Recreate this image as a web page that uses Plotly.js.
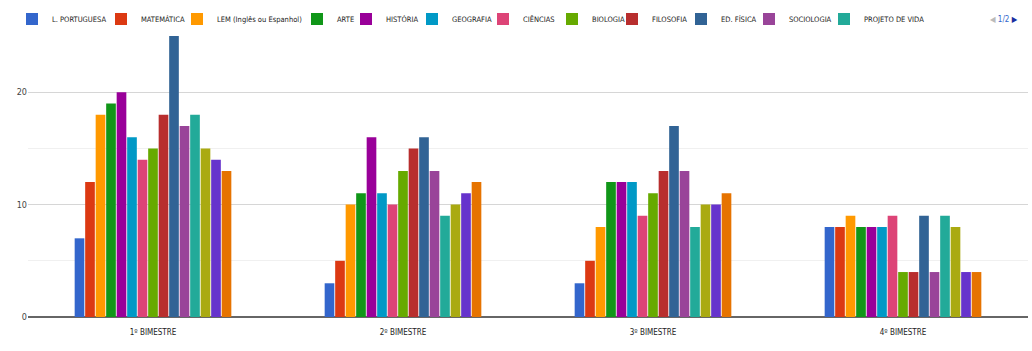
<!DOCTYPE html>
<html><head><meta charset="utf-8">
<script src="https://cdn.plot.ly/plotly-3.0.1.min.js"></script>
<style>html,body{margin:0;padding:0;background:#fff}#c{width:1032px;height:351px}</style>
</head><body><div id="c"></div>
<script>
const categories = ["1º BIMESTRE", "2º BIMESTRE", "3º BIMESTRE", "4º BIMESTRE"];
const seriesNames = ["L. PORTUGUESA", "MATEMÁTICA", "LEM (Inglês ou Espanhol)", "ARTE", "HISTÓRIA", "GEOGRAFIA", "CIÊNCIAS", "BIOLOGIA", "FILOSOFIA", "ED. FÍSICA", "SOCIOLOGIA", "PROJETO DE VIDA", "QUÍMICA", "FÍSICA", "ELETIVA"];
const lPortuguesa = [7, 3, 3, 8];
const matematica = [12, 5, 5, 8];
const lem = [18, 10, 8, 9];
const arte = [19, 11, 12, 8];
const historia = [20, 16, 12, 8];
const geografia = [16, 11, 12, 8];
const ciencias = [14, 10, 9, 9];
const biologia = [15, 13, 11, 4];
const filosofia = [18, 15, 13, 4];
const edFisica = [25, 16, 17, 9];
const sociologia = [17, 13, 13, 4];
const projetoDeVida = [18, 9, 8, 9];
const quimica = [15, 10, 10, 8];
const fisica = [14, 11, 10, 4];
const eletiva = [13, 12, 11, 4];
const seriesValues = [lPortuguesa, matematica, lem, arte, historia, geografia, ciencias, biologia, filosofia, edFisica, sociologia, projetoDeVida, quimica, fisica, eletiva];
const colors = ["#3366cc", "#dc3912", "#ff9900", "#109618", "#990099", "#0099c6", "#dd4477", "#66aa00", "#b82e2e", "#316395", "#994499", "#22aa99", "#aaaa11", "#6633cc", "#e67300"];
const legendCount = 12;
// left edge (px) of each legend swatch on page 1 of the legend
const legendSwatchX = [27, 116, 192, 312, 361, 427, 498, 567, 627, 696, 764, 839];

const font = "'DejaVu Sans Condensed', 'Liberation Sans Narrow', 'Arial Narrow', sans-serif";

const traces = seriesValues.map((v, i) => ({
  type: "bar", name: seriesNames[i], x: categories, y: v,
  marker: {color: colors[i]}, showlegend: i < legendCount,
  legend: i === 0 ? "legend" : (i < legendCount ? "legend" + (i + 1) : "legend")
}));

const plotTop = 36, plotBottom = 317;
const legendY = 19;
const layout = {
  width: 1032, height: 351,
  margin: {l: 28, r: 4, t: plotTop, b: 351 - plotBottom},
  paper_bgcolor: "#fff", plot_bgcolor: "#fff",
  font: {family: font, size: 8, color: "#222"},
  barmode: "group", bargap: 0.37, bargroupgap: 0.08,
  xaxis: {type: "category", showgrid: false, showline: false, ticks: "", ticklabelstandoff: 9,
          tickfont: {size: 8, color: "#222"}},
  yaxis: {range: [0, 25], dtick: 10, tick0: 0, showgrid: true, gridcolor: "#d6d6d6",
          zeroline: true, zerolinecolor: "#666", zerolinewidth: 1.5, ticks: "",
          tickfont: {size: 9, color: "#444"},
          minor: {dtick: 5, showgrid: true, gridcolor: "#f0f0f0"}},
  annotations: [{xref: "paper", yref: "paper", x: 0.992, y: (plotBottom - legendY) / (plotBottom - plotTop),
    xanchor: "right", yanchor: "middle", showarrow: false,
    text: "<span style='color:#bbb'>◀</span> <span style='color:#3366cc'>1/2</span> <span style='color:#1a2fa0'>▶</span>",
    font: {size: 8}}]
};
for (let i = 0; i < legendCount; i++) {
  const key = i === 0 ? "legend" : "legend" + (i + 1);
  layout[key] = {orientation: "h", xref: "container", yref: "container",
    x: (legendSwatchX[i] - 15) / 1032, xanchor: "left", y: 1 - legendY / 351, yanchor: "middle",
    font: {size: 7.5, color: "#222", family: font}, itemwidth: 30, bgcolor: "rgba(0,0,0,0)"};
}
Plotly.newPlot("c", traces, layout, {displayModeBar: false});
</script></body></html>
